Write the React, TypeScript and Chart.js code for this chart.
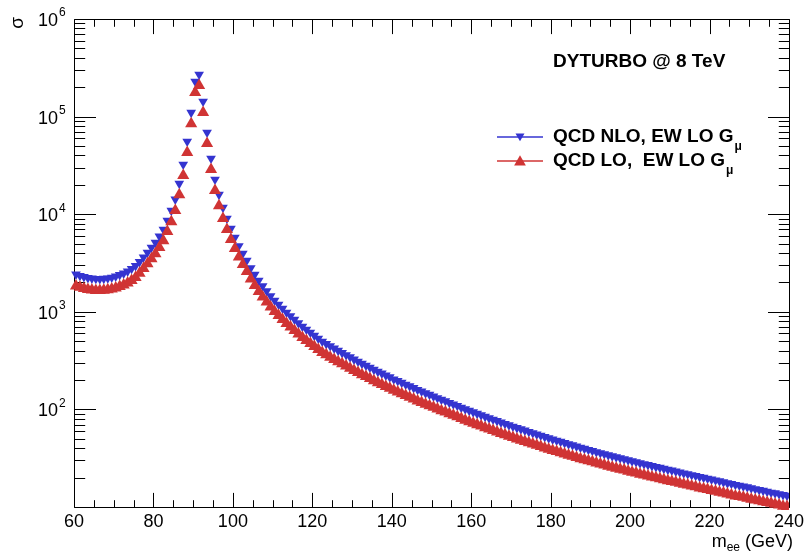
import React, { useEffect, useRef } from 'react';
import { Chart, registerables } from 'chart.js';

Chart.register(...registerables);

// Bin centres of the 1 GeV mass bins, 60–240 GeV
const binCenters: number[] = Array.from({ length: 180 }, (_, i) => 60.5 + i);

// QCD NLO, EW LO G_mu (blue, down triangles)
const sigmaNLO: number[] = [
  2420, 2340, 2280, 2230, 2200, 2180, 2175, 2185, 2210, 2250,
  2310, 2390, 2480, 2600, 2760, 2960, 3250, 3620, 4050, 4560,
  5130, 5920, 6970, 8610, 10900, 14200, 20600, 32300, 55600, 110000,
  229000, 270000, 143000, 68700, 37200, 22700, 15900, 11700, 9040, 7130,
  5770, 4720, 3955, 3357, 2812, 2410, 2094, 1837, 1633, 1452,
  1306, 1189, 1081, 984, 906, 834, 767, 706, 659, 614,
  571, 533, 497, 470, 446, 422, 400, 380, 361, 343,
  326, 310, 295, 282, 269, 256, 244, 234, 223, 214,
  204, 196, 188, 180, 173, 166, 159, 153, 147, 142,
  136, 131, 126, 122, 117, 113, 109, 104.5, 100.7, 97.3,
  93.8, 90.6, 87.5, 84.3, 81.5, 78.9, 76.2, 73.8, 71.3, 69.0,
  66.8, 64.7, 62.8, 61.0, 59.0, 57.3, 55.6, 54.0, 52.4, 50.8,
  49.4, 48.0, 46.7, 45.4, 44.1, 43.0, 41.8, 40.7, 39.6, 38.6,
  37.7, 36.6, 35.8, 34.9, 34.0, 33.2, 32.4, 31.7, 31.0, 30.2,
  29.5, 28.9, 28.2, 27.6, 27.0, 26.4, 25.8, 25.3, 24.7, 24.2,
  23.7, 23.2, 22.7, 22.2, 21.8, 21.3, 20.9, 20.4, 20.0, 19.6,
  19.2, 18.8, 18.4, 18.0, 17.6, 17.3, 16.9, 16.6, 16.3, 16.0,
  15.6, 15.3, 15.0, 14.7, 14.4, 14.1, 13.9, 13.6, 13.3, 13.1,
];

// QCD LO, EW LO G_mu (red, up triangles)
const sigmaLO: number[] = [
  1840, 1780, 1733, 1695, 1672, 1657, 1653, 1661, 1680, 1710,
  1756, 1816, 1885, 1976, 2098, 2250, 2480, 2770, 3110, 3500,
  3940, 4550, 5360, 6630, 8390, 10930, 15860, 24870, 42810, 84700,
  176300, 207900, 110100, 52900, 28640, 17480, 12240, 9010, 6960, 5490,
  4443, 3634, 3045, 2585, 2165, 1856, 1612, 1414, 1257, 1118,
  1006, 916, 832, 758, 698, 642, 591, 544, 507, 473,
  440, 410, 383, 362, 343, 325, 308, 293, 278, 264,
  251, 239, 227, 217, 207, 197, 188, 180, 172, 165,
  157, 151, 145, 139, 133, 128, 122, 118, 113, 109,
  105, 101, 97.0, 93.9, 90.1, 87.0, 83.9, 80.5, 77.5, 74.9,
  72.2, 69.8, 67.4, 64.9, 62.8, 60.8, 58.7, 56.8, 54.9, 53.1,
  51.4, 49.8, 48.4, 47.0, 45.4, 44.1, 42.8, 41.6, 40.3, 39.1,
  38.0, 37.0, 36.0, 35.0, 34.0, 33.1, 32.2, 31.3, 30.5, 29.7,
  29.0, 28.2, 27.6, 26.9, 26.2, 25.6, 24.9, 24.4, 23.9, 23.3,
  22.7, 22.3, 21.7, 21.3, 20.8, 20.3, 19.9, 19.5, 19.0, 18.6,
  18.2, 17.9, 17.5, 17.1, 16.8, 16.4, 16.1, 15.7, 15.4, 15.1,
  14.8, 14.5, 14.2, 13.9, 13.6, 13.3, 13.0, 12.8, 12.6, 12.3,
  12.0, 11.8, 11.6, 11.3, 11.1, 10.9, 10.7, 10.5, 10.2, 10.1,
];

const xMajorTicks: number[] = [60, 80, 100, 120, 140, 160, 180, 200, 220, 240];
const xMinorTicks: number[] = [
  65, 70, 75, 85, 90, 95, 105, 110, 115, 125, 130, 135, 145, 150, 155,
  165, 170, 175, 185, 190, 195, 205, 210, 215, 225, 230, 235,
];
const yDecades: number[] = [1, 2, 3, 4, 5, 6];
const yLabelExponents: number[] = [2, 3, 4, 5, 6];
const seriesLabels: string[] = ['QCD NLO, EW LO G', 'QCD LO,  EW LO G'];
const seriesSubscript = 'μ';
const annotationText = 'DYTURBO @ 8 TeV';
const xTitleMain = 'm';
const xTitleSub = 'ee';
const xTitleUnit = ' (GeV)';
const yTitle = 'σ';

const BLUE = '#3434d0';
const RED = '#d03434';
const FONT = '"Liberation Sans", Arial, Helvetica, sans-serif';
const BLUE_R = 5.6;
const RED_R = 7;

function triangle(ctx: CanvasRenderingContext2D, x: number, y: number, r: number, rotDeg: number) {
  let rad = (rotDeg * Math.PI) / 180;
  ctx.beginPath();
  for (let k = 0; k < 3; k++) {
    const px = x + Math.sin(rad) * r;
    const py = y - Math.cos(rad) * r;
    if (k === 0) ctx.moveTo(px, py);
    else ctx.lineTo(px, py);
    rad += (2 * Math.PI) / 3;
  }
  ctx.closePath();
  ctx.fill();
}

const framePlugin = {
  id: 'rootFrame',
  beforeDatasetsDraw(chart: any) {
    const ctx: CanvasRenderingContext2D = chart.ctx;
    const xs = chart.scales.x;
    const ys = chart.scales.y;
    const { left, right, top, bottom } = chart.chartArea;
    const L = Math.round(left) + 0.5;
    const R = Math.round(right) + 0.5;
    const T = Math.round(top) + 0.5;
    const B = Math.round(bottom) + 0.5;
    ctx.save();
    ctx.strokeStyle = '#000';
    ctx.lineWidth = 1;
    ctx.beginPath();
    ctx.rect(L, T, R - L, B - T);
    const xTick = (v: number, len: number) => {
      const px = Math.round(xs.getPixelForValue(v)) + 0.5;
      ctx.moveTo(px, B);
      ctx.lineTo(px, B - len);
      ctx.moveTo(px, T);
      ctx.lineTo(px, T + len);
    };
    xMajorTicks.forEach((v) => xTick(v, 14.6));
    xMinorTicks.forEach((v) => xTick(v, 7.3));
    const yTick = (v: number, len: number) => {
      const py = Math.round(ys.getPixelForValue(v)) + 0.5;
      ctx.moveTo(L, py);
      ctx.lineTo(L + len, py);
      ctx.moveTo(R, py);
      ctx.lineTo(R - len, py);
    };
    yDecades.forEach((e) => {
      const base = Math.pow(10, e);
      yTick(base, 21.5);
      for (let m = 2; m <= 9; m++) {
        const v = m * base;
        if (v < ys.max) yTick(v, 10.7);
      }
    });
    ctx.stroke();
    ctx.restore();
  },
  afterDraw(chart: any) {
    const ctx: CanvasRenderingContext2D = chart.ctx;
    const xs = chart.scales.x;
    const ys = chart.scales.y;
    ctx.save();
    ctx.fillStyle = '#000';
    ctx.font = `18px ${FONT}`;
    ctx.textAlign = 'center';
    ctx.textBaseline = 'alphabetic';
    xMajorTicks.forEach((v) => {
      ctx.fillText(String(v), xs.getPixelForValue(v), 527);
    });
    yLabelExponents.forEach((e) => {
      const py = ys.getPixelForValue(Math.pow(10, e));
      ctx.font = `18px ${FONT}`;
      ctx.textAlign = 'right';
      ctx.textBaseline = 'middle';
      ctx.fillText('10', 58, py + 2);
      ctx.font = `12px ${FONT}`;
      ctx.textAlign = 'left';
      ctx.fillText(String(e), 59, py - 6);
    });
    ctx.save();
    ctx.translate(17.5, 23);
    ctx.rotate(-Math.PI / 2);
    ctx.font = `19px ${FONT}`;
    ctx.textAlign = 'center';
    ctx.textBaseline = 'middle';
    ctx.fillText(yTitle, 0, 0);
    ctx.restore();
    ctx.textBaseline = 'alphabetic';
    ctx.textAlign = 'left';
    ctx.font = `18px ${FONT}`;
    const wUnit = ctx.measureText(xTitleUnit).width;
    const wM = ctx.measureText(xTitleMain).width;
    ctx.font = `12px ${FONT}`;
    const wSub = ctx.measureText(xTitleSub).width;
    const xEnd = 793;
    const xStart = xEnd - wUnit - wSub - wM;
    ctx.font = `18px ${FONT}`;
    ctx.fillText(xTitleMain, xStart, 547);
    ctx.font = `12px ${FONT}`;
    ctx.fillText(xTitleSub, xStart + wM, 551);
    ctx.font = `18px ${FONT}`;
    ctx.fillText(xTitleUnit, xStart + wM + wSub, 547);
    ctx.font = `bold 19px ${FONT}`;
    ctx.fillText(annotationText, 553, 67);
    const rows = [
      { y: 137, color: BLUE, r: 5.2, rot: 180, text: seriesLabels[0] },
      { y: 161, color: RED, r: 6.8, rot: 0, text: seriesLabels[1] },
    ];
    rows.forEach((row) => {
      ctx.strokeStyle = row.color;
      ctx.lineWidth = 1.5;
      ctx.beginPath();
      ctx.moveTo(497, row.y);
      ctx.lineTo(543, row.y);
      ctx.stroke();
      ctx.fillStyle = row.color;
      triangle(ctx, 520, row.y + (row.rot ? -1 : 1), row.r, row.rot);
      ctx.fillStyle = '#000';
      ctx.font = `bold 19px ${FONT}`;
      ctx.textBaseline = 'middle';
      ctx.fillText(row.text, 553, row.y);
      const w = ctx.measureText(row.text).width;
      ctx.font = `bold 12px ${FONT}`;
      ctx.fillText(seriesSubscript, 553 + w + 1, row.y + 10);
    });
    ctx.restore();
  },
};

export default function App() {
  const canvasRef = useRef<HTMLCanvasElement | null>(null);

  useEffect(() => {
    const canvas = canvasRef.current;
    if (!canvas) return;
    const chart = new Chart(canvas, {
      type: 'scatter',
      data: {
        datasets: [
          {
            label: seriesLabels[0],
            data: binCenters.map((m, i) => ({ x: m, y: sigmaNLO[i] })),
            pointStyle: 'triangle',
            pointRotation: 180,
            pointRadius: BLUE_R,
            pointBackgroundColor: BLUE,
            pointBorderWidth: 0,
            pointBorderColor: BLUE,
            showLine: false,
            order: 2,
            clip: { left: 10, right: 0, top: 0, bottom: 10 },
          } as any,
          {
            label: seriesLabels[1],
            data: binCenters.map((m, i) => ({ x: m, y: sigmaLO[i] })),
            pointStyle: 'triangle',
            pointRotation: 0,
            pointRadius: RED_R,
            pointBackgroundColor: RED,
            pointBorderWidth: 0,
            pointBorderColor: RED,
            showLine: false,
            order: 1,
            clip: { left: 10, right: 0, top: 0, bottom: 10 },
          } as any,
        ],
      },
      options: {
        responsive: false,
        animation: false,
        devicePixelRatio: 1,
        events: [],
        layout: { padding: { top: 19, right: 18, left: 0, bottom: 0 } },
        plugins: {
          legend: { display: false },
          tooltip: { enabled: false },
        },
        scales: {
          x: {
            type: 'linear',
            min: 60,
            max: 240,
            grid: { display: false },
            border: { display: false },
            ticks: { display: false },
            afterFit: (s: any) => {
              s.height = 47;
            },
          },
          y: {
            type: 'logarithmic',
            min: 10,
            max: 1e6,
            grid: { display: false },
            border: { display: false },
            ticks: { display: false },
            afterFit: (s: any) => {
              s.width = 74;
            },
          },
        },
      } as any,
      plugins: [framePlugin],
    });
    return () => chart.destroy();
  }, []);

  return (
    <div style={{ position: 'fixed', left: 0, top: 0, width: 807, height: 554, background: '#fff' }}>
      <canvas ref={canvasRef} width={807} height={554} style={{ width: 807, height: 554 }} />
    </div>
  );
}
